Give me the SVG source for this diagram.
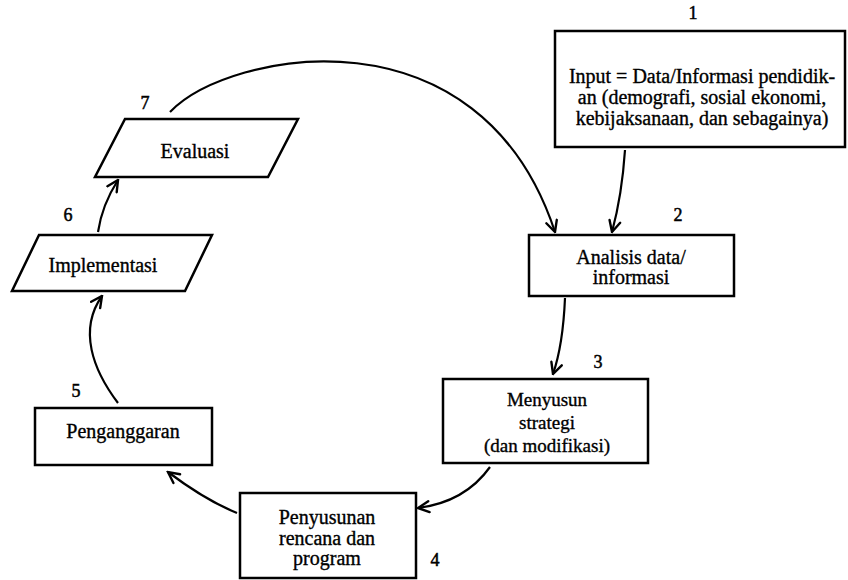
<svg xmlns="http://www.w3.org/2000/svg" width="848" height="580" viewBox="0 0 848 580">
<style>
.box{fill:#fff;stroke:#000;stroke-width:2.5}
.t{font-family:"Liberation Serif","Times New Roman",serif;font-size:20px;fill:#000;stroke:#000;stroke-width:0.35;text-anchor:middle}
.s{font-size:19px}
.n{font-family:"Liberation Serif","Times New Roman",serif;font-size:18px;fill:#000;stroke:#000;stroke-width:0.5;text-anchor:middle}
.c{fill:none;stroke:#000;stroke-width:2.2;marker-end:url(#ah)}
</style>
<defs>
<marker id="ah" viewBox="0 0 14 14" refX="12.5" refY="7" markerWidth="14" markerHeight="14" markerUnits="userSpaceOnUse" orient="auto">
<path d="M1.5,1.5 L12.5,7 L1.5,12.5" fill="none" stroke="#000" stroke-width="2.4" stroke-linecap="round" stroke-linejoin="miter"/>
</marker>
</defs>
<rect width="848" height="580" fill="#fff"/>
<g id="connectors">
<path class="c" d="M625,150 Q622,195 612,232"/>
<path class="c" d="M170,112 C230,50 480,4 555,232"/>
<path class="c" d="M565,298 Q563,345 553,374"/>
<path class="c" d="M490,467 Q465,502 418,508"/>
<path class="c" d="M237,513 Q205,500 168,472"/>
<path class="c" d="M118,403 C93,370 78,330 102,296"/>
<path class="c" d="M98,232 Q102,205 118,180"/>
</g>
<g id="node1">
<rect class="box" x="555" y="31" width="290" height="116"/>
<text class="t" x="702" y="83">Input = Data/Informasi pendidik-</text>
<text class="t" x="702" y="104">an (demografi, sosial ekonomi,</text>
<text class="t" x="702" y="125">kebijaksanaan, dan sebagainya)</text>
<text class="n" x="693" y="19">1</text>
</g>
<g id="node2">
<rect class="box" x="529" y="235" width="205" height="61"/>
<text class="t" x="631" y="264">Analisis data/</text>
<text class="t" x="631" y="284">informasi</text>
<text class="n" x="678" y="221">2</text>
</g>
<g id="node3">
<rect class="box" x="443" y="379" width="205" height="84"/>
<text class="t s" x="547" y="406">Menyusun</text>
<text class="t s" x="547" y="429">strategi</text>
<text class="t s" x="547" y="452">(dan modifikasi)</text>
<text class="n" x="598" y="368">3</text>
</g>
<g id="node4">
<rect class="box" x="240" y="493" width="176" height="85"/>
<text class="t" x="327" y="524">Penyusunan</text>
<text class="t" x="327" y="545">rencana dan</text>
<text class="t" x="327" y="565">program</text>
<text class="n" x="435" y="566">4</text>
</g>
<g id="node5">
<rect class="box" x="35" y="408" width="177" height="57"/>
<text class="t" x="123" y="438">Penganggaran</text>
<text class="n" x="76" y="397">5</text>
</g>
<g id="node6">
<polygon class="box" points="39,235 212,235 185,291 12,291"/>
<text class="t" x="103" y="272">Implementasi</text>
<text class="n" x="68" y="221">6</text>
</g>
<g id="node7">
<polygon class="box" points="125,119 298,119 268,177 95,177"/>
<text class="t" x="195" y="158">Evaluasi</text>
<text class="n" x="145" y="109">7</text>
</g>
</svg>
